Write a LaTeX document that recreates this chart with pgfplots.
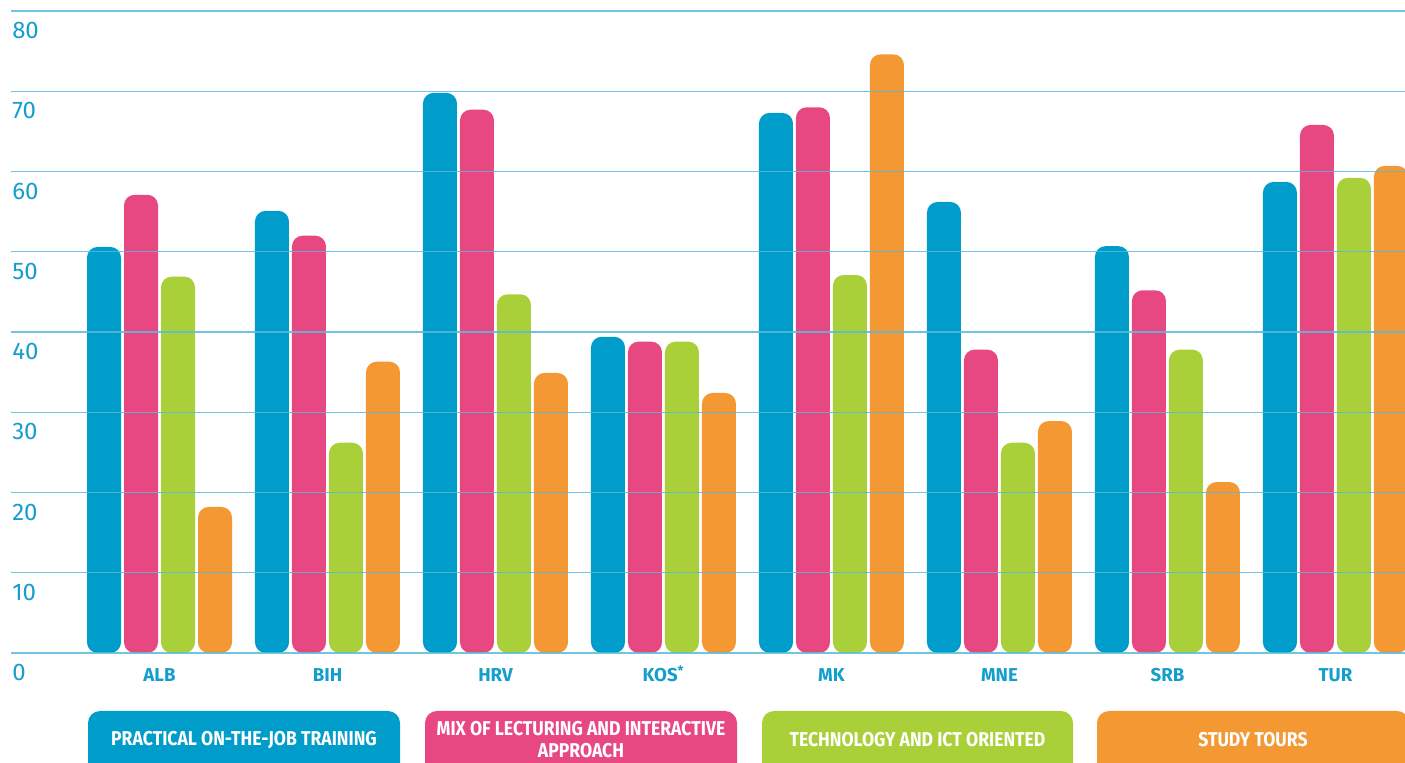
\documentclass[border=0pt]{standalone}
\usepackage{pgfplots}
\pgfplotsset{compat=1.18}
\usepackage{pgfplotstable}
\usepackage{fontspec}
\setmainfont{Fira Sans}
\newfontfamily\condfont[FakeStretch=0.88]{Fira Sans}
\definecolor{cblue}{RGB}{0,157,203}
\definecolor{cpink}{RGB}{232,72,130}
\definecolor{cgreen}{RGB}{170,208,57}
\definecolor{corange}{RGB}{243,152,50}
\definecolor{gridblue}{RGB}{90,185,222}
\definecolor{tickblue}{RGB}{20,158,205}
\pgfplotstableread{
x b p g o
0 50.6 57.1 46.9 18.2
1 55.1 52.0 26.2 36.3
2 69.8 67.7 44.7 34.9
3 39.4 38.8 38.8 32.4
4 67.3 68.0 47.1 74.6
5 56.2 37.8 26.2 28.9
6 50.7 45.2 37.8 21.3
7 58.7 65.8 59.2 60.7
}\datatable
\begin{document}
\begin{tikzpicture}
\useasboundingbox (0,0) rectangle (1053.75pt,572.25pt);
\clip (0,0) rectangle (1053.75pt,572.25pt);
\begin{axis}[
  at={(8.25pt,82.5pt)}, anchor=south west, scale only axis,
  width=1045.5pt, height=481.5pt,
  xmin=-0.884, xmax=7.414, ymin=0, ymax=80,
  ybar=2.25pt, bar width=25.5pt,
  axis line style={draw=none},
  major tick length=0pt,
  ytick={0,10,...,80}, xtick={0,...,7},
  xticklabels={ALB,BIH,HRV,KOS\textsuperscript{*},MK,MNE,SRB,TUR},
  ymajorgrids, grid style={gridblue, line width=0.9pt, opacity=0.85},
  axis on top,
  /pgf/number format/assume math mode=true,
  yticklabel style={font=\fontsize{18}{18}\selectfont, text=tickblue, anchor=north west, inner sep=0pt, xshift=0.75pt, yshift=-8.25pt},
  xticklabel style={font=\bfseries\fontsize{14}{14}\selectfont, text=tickblue, anchor=base, inner sep=0pt, yshift=-21.75pt},
  every axis plot/.append style={draw=none, rounded corners=8pt},
]
\addplot[fill=cblue] table[x=x,y=b]{\datatable};
\addplot[fill=cpink] table[x=x,y=p]{\datatable};
\addplot[fill=cgreen] table[x=x,y=g]{\datatable};
\addplot[fill=corange] table[x=x,y=o]{\datatable};
\end{axis}
\fill[cblue, rounded corners=9pt] (66pt,-10pt) rectangle (300pt,39pt);
\fill[cpink, rounded corners=9pt] (318.75pt,-10pt) rectangle (552.75pt,39pt);
\fill[cgreen, rounded corners=9pt] (571.5pt,-10pt) rectangle (804.75pt,39pt);
\fill[corange, rounded corners=9pt] (822.75pt,-10pt) rectangle (1056.75pt,39pt);
\begin{scope}[every node/.style={text=white, font=\condfont\bfseries\fontsize{15}{17}\selectfont, align=center, inner sep=0pt}]
\node at (183pt,17.25pt) {PRACTICAL ON-THE-JOB TRAINING};
\node at (435.75pt,17.6pt) {MIX OF LECTURING AND INTERACTIVE\\APPROACH};
\node at (688.1pt,17.25pt) {TECHNOLOGY AND ICT ORIENTED};
\node at (939.75pt,17.25pt) {STUDY TOURS};
\end{scope}
\end{tikzpicture}
\end{document}
